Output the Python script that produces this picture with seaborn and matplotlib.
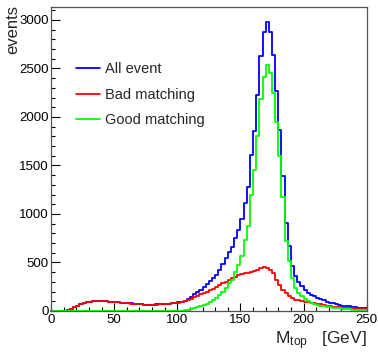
import numpy as np
import pandas as pd
import matplotlib
matplotlib.use("Agg")
import matplotlib.pyplot as plt
import seaborn as sns
from matplotlib.lines import Line2D
from matplotlib.ticker import MultipleLocator

# Reconstructed top-quark mass, 100 bins of 2.5 GeV between 0 and 250 GeV
bin_lo, bin_hi, n_bins = 0.0, 250.0, 100

all_event = [
    0, 0, 0, 0, 5, 15, 25, 40, 55, 70,
    80, 88, 95, 100, 105, 108, 105, 100, 96, 92,
    90, 88, 86, 82, 82, 78, 75, 73, 70, 66,
    64, 65, 66, 68, 70, 72, 75, 77, 80, 84,
    88, 96, 108, 128, 147, 170, 195, 220, 247, 274,
    305, 340, 375, 425, 480, 542, 610, 657, 754, 838,
    951, 1118, 1275, 1605, 1860, 2225, 2630, 2872, 2980, 2873,
    2638, 2270, 1868, 1396, 902, 665, 465, 358, 300, 259,
    218, 188, 167, 150, 138, 124, 110, 97, 87, 79,
    71, 64, 56, 51, 47, 42, 38, 34, 30, 26,
]

bad_matching = [
    0, 0, 0, 0, 5, 15, 25, 40, 55, 70,
    80, 88, 95, 100, 105, 108, 105, 100, 96, 92,
    90, 88, 86, 82, 79, 76, 72, 70, 67, 64,
    62, 62, 63, 65, 67, 69, 72, 75, 78, 82,
    86, 92, 100, 113, 125, 140, 155, 170, 185, 199,
    215, 230, 245, 265, 285, 302, 320, 337, 354, 368,
    381, 388, 395, 405, 410, 425, 440, 457, 440, 423,
    388, 320, 268, 216, 182, 150, 130, 118, 110, 104,
    96, 88, 82, 78, 74, 68, 62, 55, 50, 46,
    42, 38, 34, 32, 30, 27, 25, 22, 20, 17,
]

good_matching = [
    0, 0, 0, 0, 0, 0, 0, 0, 0, 0,
    0, 0, 0, 0, 0, 0, 0, 0, 0, 0,
    0, 0, 0, 0, 0, 0, 0, 0, 0, 0,
    0, 0, 0, 0, 0, 0, 0, 0, 0, 0,
    2, 4, 8, 15, 22, 30, 40, 50, 62, 75,
    90, 110, 130, 160, 195, 240, 290, 320, 400, 470,
    570, 730, 880, 1200, 1450, 1800, 2190, 2415, 2540, 2450,
    2250, 1950, 1600, 1180, 720, 515, 335, 240, 190, 155,
    122, 100, 85, 72, 64, 56, 48, 42, 37, 33,
    29, 26, 22, 19, 17, 15, 13, 12, 10, 9,
]

series_labels = ["All event", "Bad matching", "Good matching"]
series_colors = ["#0000ff", "#ff0000", "#00ff00"]
x_ticks = [0, 50, 100, 150, 200, 250]
y_ticks = [0, 500, 1000, 1500, 2000, 2500, 3000]

sns.set_theme(style="white")
plt.rcParams["font.family"] = ["Liberation Sans", "DejaVu Sans"]
plt.rcParams["mathtext.fontset"] = "custom"
plt.rcParams["mathtext.rm"] = "Liberation Sans"
plt.rcParams["mathtext.it"] = "Liberation Sans"

bin_width = (bin_hi - bin_lo) / n_bins
centers = bin_lo + bin_width * (np.arange(n_bins) + 0.5)

fig = plt.figure(figsize=(3.78, 3.53), dpi=100)
fig.patch.set_facecolor("white")
ax = fig.add_axes([0.135, 0.119, 0.835, 0.860])

for label, counts, color in zip(series_labels,
                                [all_event, bad_matching, good_matching],
                                series_colors):
    df = pd.DataFrame({"mtop": centers, "events": counts})
    sns.histplot(data=df, x="mtop", weights="events",
                 binwidth=bin_width, binrange=(bin_lo, bin_hi),
                 element="step", fill=False, color=color,
                 linewidth=1.3, ax=ax)

for art in list(ax.lines) + list(ax.collections) + list(ax.patches):
    art.set_clip_on(False)

ax.set_xlim(bin_lo, bin_hi)
ax.set_ylim(0, 1.05 * max(all_event))
ax.set_xlabel("")
ax.set_ylabel("")

ax.set_xticks(x_ticks)
ax.set_yticks(y_ticks)
ax.xaxis.set_minor_locator(MultipleLocator(10))
ax.yaxis.set_minor_locator(MultipleLocator(100))
ax.tick_params(axis="both", which="both", direction="in",
               bottom=True, left=True, top=False, right=False,
               colors="black", labelsize=9.5, width=0.8)
ax.tick_params(axis="x", which="major", length=6, pad=2)
ax.tick_params(axis="x", which="minor", length=3)
ax.tick_params(axis="y", which="major", length=6.5, pad=1.5)
ax.tick_params(axis="y", which="minor", length=3.2)

for side in ax.spines.values():
    side.set_color("#555555")
    side.set_linewidth(0.9)

handles = [Line2D([0], [0], color=c, lw=1.3) for c in series_colors]
ax.legend(handles, series_labels, loc="upper left",
          bbox_to_anchor=(0.079, 0.82), frameon=False,
          fontsize=10.5, handlelength=1.65, handletextpad=0.35,
          labelspacing=0.8, borderpad=0.0, borderaxespad=0.0)

fig.text(0.035, 0.985, "events", rotation=90, ha="center", va="top",
         fontsize=12)
fig.text(0.970, 0.024, r"M$_{\mathrm{top}}$   [GeV]", ha="right",
         va="baseline", fontsize=12.5)

fig.savefig("out.png", dpi=100, facecolor="white")
